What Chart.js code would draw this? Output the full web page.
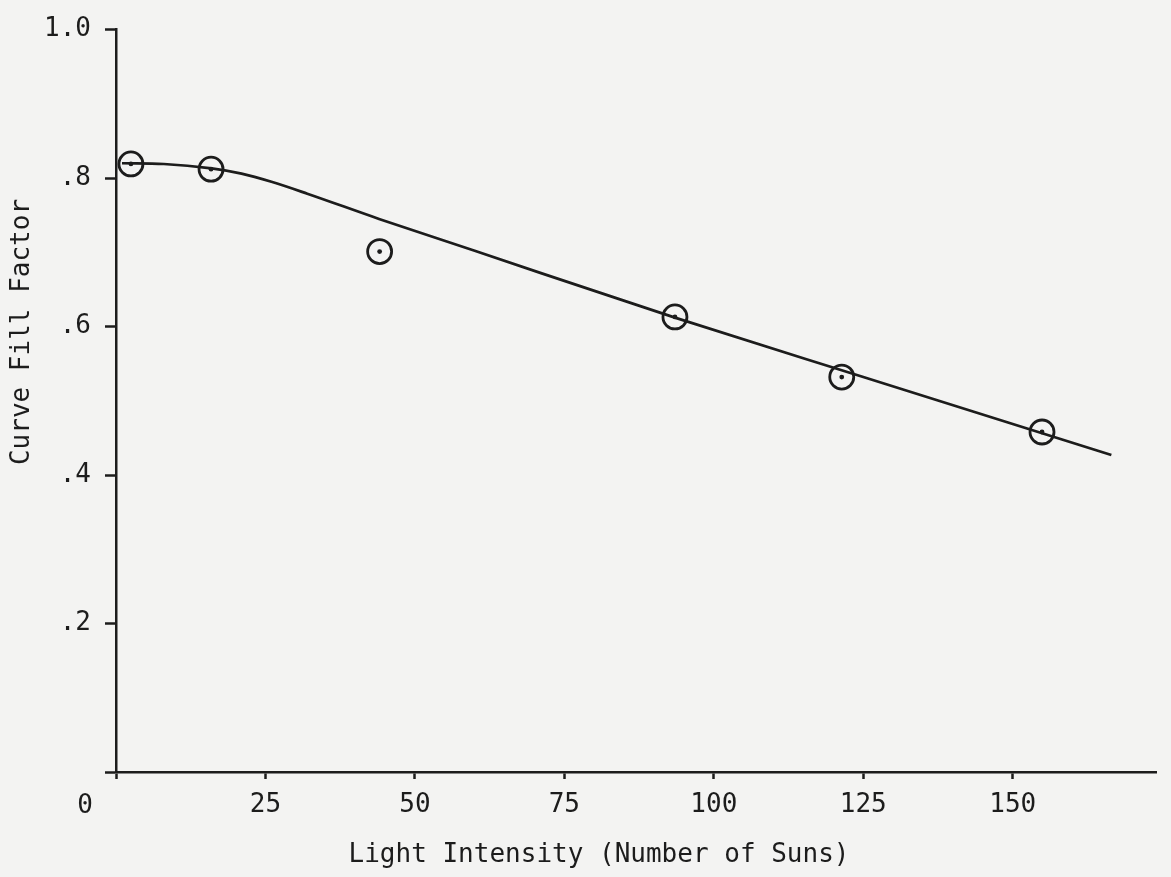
<!DOCTYPE html>
<html>
<head>
<meta charset="utf-8">
<script src="https://cdn.jsdelivr.net/npm/chart.js@4"></script>
<style>
  body { margin: 0; background: #f3f3f2; }
  canvas { display: block; }
</style>
</head>
<body>
<canvas id="fillChart" width="1171" height="877"></canvas>
<script>
// Mesures (points entourés)
const measuredX = [2.5, 15.9, 44.1, 93.5, 121.4, 154.9];
const measuredY = [0.819, 0.812, 0.701, 0.613, 0.532, 0.458];

// Courbe tracée à la main
const curveX = [1, 8, 16, 21, 26, 32, 44, 60, 93.5, 125, 166.5];
const curveY = [0.820, 0.819, 0.813, 0.806, 0.795, 0.779, 0.745, 0.702, 0.612, 0.532, 0.427];

const xTitle = 'Light Intensity (Number of Suns)';
const yTitle = 'Curve Fill Factor';

const INK = '#1c1c1c';
const FONT = '"DejaVu Sans Mono", "Liberation Mono", monospace';

const toPoints = (xs, ys) => xs.map((x, i) => ({ x: x, y: ys[i] }));

// Titres et le "0" décalé, comme sur l'original
const refText = {
    id: 'refText',
    afterDraw(chart) {
        const ctx = chart.ctx;
        ctx.save();
        ctx.font = '26px ' + FONT;
        ctx.fillStyle = INK;
        ctx.textAlign = 'center';
        ctx.textBaseline = 'middle';
        ctx.fillText('0', chart.scales.x.getPixelForValue(0) - 31, 806);
        ctx.fillText(xTitle, 599, 855);
        ctx.translate(22, 332);
        ctx.rotate(-Math.PI / 2);
        ctx.fillText(yTitle, 0, 0);
        ctx.restore();
    }
};

const ctx = document.getElementById('fillChart').getContext('2d');
new Chart(ctx, {
    type: 'scatter',
    data: {
        datasets: [{
            data: toPoints(curveX, curveY),
            showLine: true,
            cubicInterpolationMode: 'monotone',
            borderColor: INK,
            borderWidth: 2.7,
            pointRadius: 0
        }, {
            data: toPoints(measuredX, measuredY),
            pointRadius: 12,
            pointBorderWidth: 2.8,
            pointBorderColor: INK,
            pointBackgroundColor: 'rgba(0,0,0,0)'
        }, {
            data: toPoints(measuredX, measuredY),
            pointRadius: 2.4,
            pointBorderWidth: 0,
            pointBackgroundColor: INK
        }]
    },
    options: {
        responsive: false,
        animation: false,
        layout: { padding: { top: 27, right: 8, left: 0, bottom: 0 } },
        plugins: { legend: { display: false }, tooltip: { enabled: false } },
        scales: {
            x: {
                type: 'linear',
                min: 0,
                max: 174,
                afterFit: s => { s.height = 105; },
                border: { color: INK, width: 2.5 },
                grid: { drawOnChartArea: false, tickLength: 7, tickColor: INK, tickWidth: 2.5 },
                ticks: {
                    stepSize: 25,
                    includeBounds: false,
                    padding: 11,
                    color: INK,
                    font: { family: FONT, size: 26 },
                    maxRotation: 0,
                    callback: v => v === 0 ? '' : String(v)
                }
            },
            y: {
                min: 0,
                max: 1,
                afterFit: s => { s.width = 116; },
                border: { color: INK, width: 2.5 },
                grid: { drawOnChartArea: false, tickLength: 11, tickColor: INK, tickWidth: 2.5 },
                ticks: {
                    stepSize: 0.2,
                    padding: 14,
                    color: INK,
                    font: { family: FONT, size: 26 },
                    callback: v => v === 0 ? '' : (v >= 1 ? '1.0' : '.' + Math.round(v * 10))
                }
            }
        }
    },
    plugins: [refText]
});
</script>
</body>
</html>
